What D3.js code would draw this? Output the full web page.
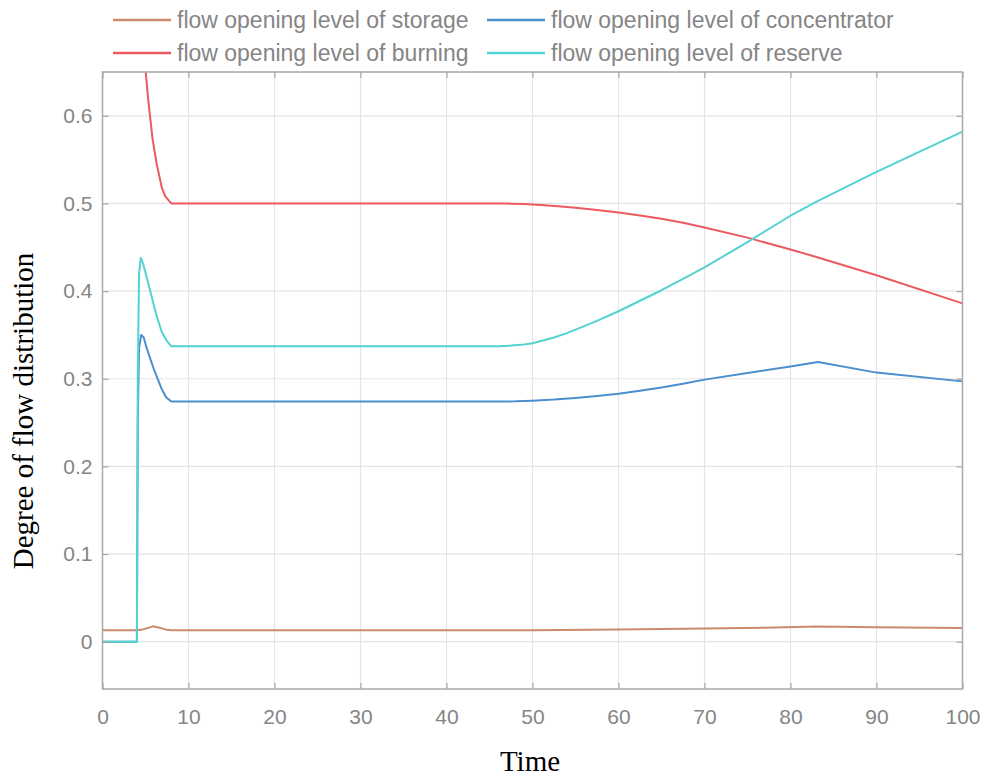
<!DOCTYPE html>
<html><head><meta charset="utf-8">
<script src="https://cdn.jsdelivr.net/npm/d3@7"></script>
<style>html,body{margin:0;padding:0;background:#fff;}</style>
</head><body>
<svg id="chart" width="983" height="776"></svg>
<script>
// ---- data ----
const seriesNames = ["flow opening level of storage","flow opening level of concentrator","flow opening level of burning","flow opening level of reserve"];
const xTicks = [0,10,20,30,40,50,60,70,80,90,100];
const yTicks = [0,0.1,0.2,0.3,0.4,0.5,0.6];

const storageT = [0,4,4.5,5.2,5.9,6.6,7.3,8,30,50,60,70,77,83,90,100];
const storageV = [0.013,0.013,0.0135,0.0155,0.0175,0.016,0.014,0.013,0.013,0.013,0.014,0.015,0.016,0.0173,0.0165,0.0155];

const concT = [0,4,4.1,4.25,4.5,4.8,5.1,6,6.9,7.4,8,20,30,40,46,48,50,52.5,55,57.5,60,62.5,65,67.5,70,75,80,83.2,90,100];
const concV = [0,0,0.25,0.335,0.35,0.347,0.336,0.31,0.288,0.279,0.274,0.274,0.274,0.274,0.274,0.2742,0.275,0.2762,0.278,0.2803,0.283,0.2863,0.29,0.2943,0.299,0.3065,0.314,0.319,0.307,0.297];

const burnT = [0,4,4.5,4.9,5.3,5.8,6.3,6.9,7.3,8,20,30,40,44,46,47.5,49,51,53,55,57.5,60,62.5,65,67.5,70,75,80,83,90,100];
const burnV = [1,1,0.76,0.664,0.62,0.575,0.545,0.518,0.508,0.5,0.5,0.5,0.5,0.5,0.5,0.4998,0.4993,0.4982,0.4968,0.495,0.4925,0.4897,0.4863,0.4825,0.478,0.4725,0.461,0.4475,0.439,0.418,0.386];

const resT = [0,4,4.1,4.25,4.45,4.7,5.5,6.2,6.9,7.5,8,20,30,40,44,46,47.5,49,50,51,52.5,54,55,57.5,60,62.5,65,67.5,70,75,80,83.2,90,100];
const resV = [0,0,0.3,0.42,0.438,0.432,0.402,0.375,0.353,0.343,0.337,0.337,0.337,0.337,0.337,0.3372,0.3378,0.339,0.3405,0.343,0.347,0.352,0.356,0.366,0.377,0.389,0.401,0.414,0.427,0.456,0.486,0.503,0.536,0.582];

const colors = {storage:"#cc8a6c", conc:"#4b8fcc", burn:"#ec5a60", res:"#52d2d2"};

// ---- layout ----
const svg = d3.select("#chart");
const L = 102.5, R = 962.5, T = 72, B = 689;
const x = d3.scaleLinear().domain([0,100]).range([L,R]);
const y = d3.scaleLinear().domain([-0.054,0.65]).range([B,T]);

// grid
const g = svg.append("g");
g.selectAll("line.vg").data(xTicks.slice(1,-1)).join("line")
  .attr("x1",d=>x(d)).attr("x2",d=>x(d)).attr("y1",T).attr("y2",B)
  .attr("stroke","#e4e4e4").attr("stroke-width",1.2);
g.selectAll("line.hg").data(yTicks).join("line")
  .attr("x1",L).attr("x2",R).attr("y1",d=>y(d)).attr("y2",d=>y(d))
  .attr("stroke","#e4e4e4").attr("stroke-width",1.2);

// clip
svg.append("clipPath").attr("id","clip").append("rect")
  .attr("x",L).attr("y",T).attr("width",R-L).attr("height",B-T);

const line = d3.line().x(d=>x(d[0])).y(d=>y(d[1]));
const series = [
  {t:storageT,v:storageV,c:colors.storage},
  {t:concT,v:concV,c:colors.conc},
  {t:burnT,v:burnV,c:colors.burn},
  {t:resT,v:resV,c:colors.res}
];
const lg = svg.append("g").attr("clip-path","url(#clip)");
series.forEach(s=>{
  lg.append("path").datum(s.t.map((t,i)=>[t,s.v[i]]))
    .attr("d",line).attr("fill","none").attr("stroke",s.c)
    .attr("stroke-width",2).attr("stroke-linejoin","round");
});

// frame
svg.append("rect").attr("x",L).attr("y",T).attr("width",R-L).attr("height",B-T)
  .attr("fill","none").attr("stroke","#a8a8a8").attr("stroke-width",1.5);

// axes (ticks inward)
const axB = d3.axisBottom(x).tickValues(xTicks).tickSize(-6).tickPadding(20).tickFormat(d3.format("d"));
const axL = d3.axisLeft(y).tickValues(yTicks).tickSize(-6).tickPadding(10).tickFormat(d=>d===0?"0":d3.format(".1f")(d));
const axT = d3.axisTop(x).tickValues(xTicks).tickSize(-6).tickFormat("");
const axR = d3.axisRight(y).tickValues(yTicks).tickSize(-6).tickFormat("");
function style(sel){
  sel.select(".domain").remove();
  sel.selectAll(".tick line").attr("stroke","#a8a8a8").attr("stroke-width",1.2);
  sel.selectAll(".tick text").attr("fill","#858585").style("font-family","'Liberation Sans',Arial,sans-serif").style("font-size","21px");
}
svg.append("g").attr("transform",`translate(0,${B})`).call(axB).call(style);
svg.append("g").attr("transform",`translate(${L},0)`).call(axL).call(style);
svg.append("g").attr("transform",`translate(0,${T})`).call(axT).call(style);
svg.append("g").attr("transform",`translate(${R},0)`).call(axR).call(style);

// axis titles
svg.append("text").attr("x",530).attr("y",771).attr("text-anchor","middle")
  .style("font-family","'Liberation Serif','Times New Roman',serif").style("font-size","29px").attr("fill","#000").text("Time");
svg.append("text").attr("transform","translate(33,411) rotate(-90)").attr("text-anchor","middle")
  .style("font-family","'Liberation Serif','Times New Roman',serif").style("font-size","29px").attr("fill","#000").text("Degree of flow distribution");

// legend
const legendPos = [
  {i:0,x:113,y:20,c:colors.storage},
  {i:1,x:487,y:20,c:colors.conc},
  {i:2,x:113,y:53,c:colors.burn},
  {i:3,x:487,y:53,c:colors.res}
];
const leg = svg.append("g");
legendPos.forEach(p=>{
  leg.append("line").attr("x1",p.x).attr("x2",p.x+58).attr("y1",p.y).attr("y2",p.y)
    .attr("stroke",p.c).attr("stroke-width",2.5);
  leg.append("text").attr("x",p.x+64).attr("y",p.y).attr("dy","0.35em")
    .attr("fill","#858585").style("font-family","'Liberation Sans',Arial,sans-serif")
    .style("font-size","23px").text(seriesNames[p.i]);
});
</script>
</body></html>
